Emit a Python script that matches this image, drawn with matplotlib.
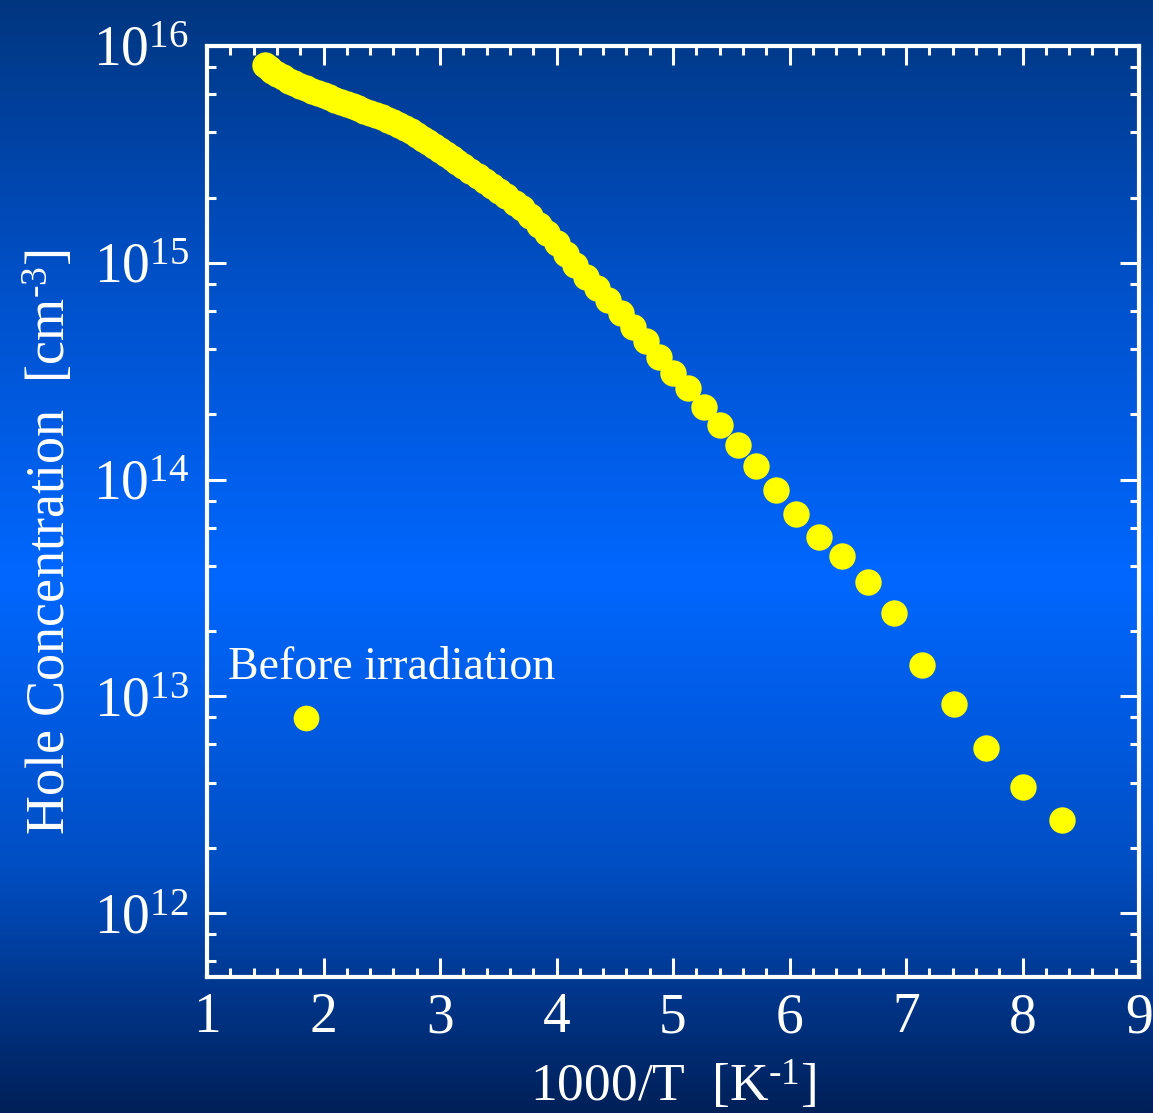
import numpy as np
import matplotlib
matplotlib.use("Agg")
import matplotlib.pyplot as plt
from matplotlib.ticker import FixedLocator, NullFormatter, MultipleLocator
from matplotlib.colors import LinearSegmentedColormap

plt.rcParams['font.family'] = ['Liberation Serif', 'DejaVu Serif']
plt.rcParams['mathtext.fontset'] = 'custom'
plt.rcParams['mathtext.rm'] = 'Liberation Serif'
plt.rcParams['mathtext.it'] = 'Liberation Serif:italic'

# ---- data (1000/T in K^-1, hole concentration in cm^-3) ----
inv_T = [1.50, 1.53, 1.56, 1.60, 1.65, 1.70, 1.75, 1.80, 1.85, 1.90, 1.95,
         2.00, 2.05, 2.10, 2.15, 2.20, 2.25, 2.30, 2.35, 2.40, 2.45,
         2.50, 2.55, 2.60, 2.65, 2.70, 2.75, 2.80, 2.85, 2.90, 2.95,
         3.00, 3.05, 3.10, 3.15, 3.20, 3.26, 3.33, 3.39, 3.45, 3.51,
         3.57, 3.64, 3.70, 3.77, 3.85, 3.92, 4.00, 4.08, 4.16, 4.25,
         4.35, 4.44, 4.55, 4.66, 4.77, 4.88, 5.00, 5.13, 5.27, 5.40,
         5.56, 5.71, 5.88, 6.06, 6.25, 6.45, 6.67, 6.90, 7.14, 7.41,
         7.69, 8.00, 8.34]
hole_conc = [8.13e15, 7.90e15, 7.70e15, 7.45e15, 7.16e15, 6.92e15, 6.73e15, 6.55e15, 6.38e15, 6.22e15, 6.07e15,
             5.93e15, 5.79e15, 5.65e15, 5.52e15, 5.40e15, 5.27e15, 5.15e15, 5.04e15, 4.92e15, 4.80e15,
             4.68e15, 4.57e15, 4.45e15, 4.33e15, 4.19e15, 4.05e15, 3.89e15, 3.74e15, 3.60e15, 3.46e15,
             3.32e15, 3.18e15, 3.05e15, 2.92e15, 2.80e15, 2.66e15, 2.51e15, 2.38e15, 2.26e15, 2.14e15,
             2.03e15, 1.89e15, 1.78e15, 1.64e15, 1.50e15, 1.37e15, 1.23e15, 1.10e15, 9.8e14, 8.6e14,
             7.67e14, 6.76e14, 5.89e14, 5.07e14, 4.37e14, 3.69e14, 3.11e14, 2.63e14, 2.17e14, 1.79e14,
             1.45e14, 1.15e14, 8.99e13, 6.97e13, 5.41e13, 4.42e13, 3.35e13, 2.41e13, 1.39e13, 9.19e12,
             5.75e12, 3.81e12, 2.68e12]

before_inv_T = [1.85]
before_conc = [7.9e12]

x_ticks = [1, 2, 3, 4, 5, 6, 7, 8, 9]
y_ticks = [1e12, 1e13, 1e14, 1e15, 1e16]
y_tick_labels = [r'$\mathregular{10^{12}}$', r'$\mathregular{10^{13}}$', r'$\mathregular{10^{14}}$',
                 r'$\mathregular{10^{15}}$', r'$\mathregular{10^{16}}$']

W, H, DPI = 1153, 1113, 100
fig = plt.figure(figsize=(W / DPI, H / DPI), dpi=DPI)

# background gradient
bg = fig.add_axes([0, 0, 1, 1], zorder=-10)
cmap = LinearSegmentedColormap.from_list('bgblue', [
    (0.00, (0/255, 54/255, 128/255)),
    (0.25, (0/255, 80/255, 200/255)),
    (0.52, (0/255, 103/255, 255/255)),
    (0.78, (0/255, 78/255, 195/255)),
    (1.00, (0/255, 32/255, 88/255)),
])
grad = np.linspace(0, 1, 512).reshape(-1, 1)
bg.imshow(grad, aspect='auto', cmap=cmap, extent=[0, 1, 0, 1], origin='upper')
bg.set_axis_off()

ax = fig.add_axes([207 / W, 1 - 977 / H, (1139 - 207) / W, (977 - 46) / H])
ax.set_facecolor('none')

ax.plot(inv_T, hole_conc, 'o', color='#FFFF00', markersize=19, markeredgewidth=0, clip_on=False, zorder=3)
ax.plot(before_inv_T, before_conc, 'o', color='#FFFF00', markersize=18.5, markeredgewidth=0, zorder=3)

ax.set_yscale('log')
ax.set_xlim(1, 9)
ax.set_ylim(5.07e11, 1e16)

ax.xaxis.set_major_locator(FixedLocator(x_ticks))
ax.xaxis.set_minor_locator(MultipleLocator(0.2))
ax.set_xticklabels([str(v) for v in x_ticks])

ax.yaxis.set_major_locator(FixedLocator(y_ticks))
minors = [m * 10.0 ** e for e in range(11, 16) for m in (2, 4, 6, 8)]
ax.yaxis.set_minor_locator(FixedLocator(minors))
ax.yaxis.set_minor_formatter(NullFormatter())
ax.set_yticklabels(y_tick_labels)

for s in ax.spines.values():
    s.set_color('white')
    s.set_linewidth(3)

ax.tick_params(which='both', direction='in', top=True, right=True, colors='white')
ax.tick_params(which='major', length=14, width=2.2, labelsize=40, pad=11)
ax.tick_params(which='minor', length=6.5, width=2.2)
ax.tick_params(axis='y', which='major', pad=13)

ax.set_xlabel(r'1000/T  [K$\mathregular{^{\text{-}1}}$]', color='white', fontsize=38.5)
ax.set_ylabel(r'Hole Concentration  [cm$\mathregular{^{\text{-}3}}$]', color='white', fontsize=39)
ax.xaxis.set_label_coords(0.5, -0.088)
ax.yaxis.set_label_coords(-0.14, 0.467)

ax.text(1.18, 1.36e13, 'Before irradiation', color='white', fontsize=33, ha='left', va='center')

fig.savefig('out.png', dpi=DPI)
